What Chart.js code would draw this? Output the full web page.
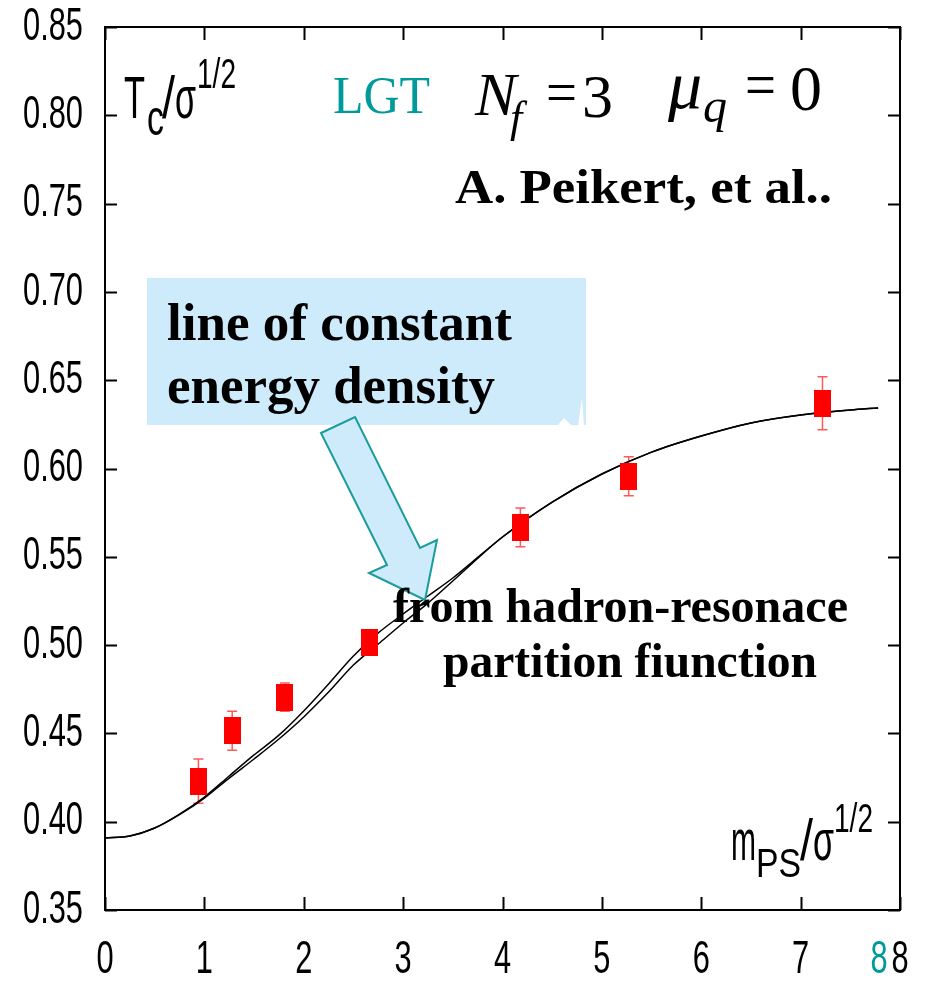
<!DOCTYPE html>
<html>
<head>
<meta charset="utf-8">
<script src="https://cdn.jsdelivr.net/npm/chart.js@4.4.1/dist/chart.umd.min.js"></script>
<style>
  html, body { margin: 0; padding: 0; background: #fff; }
  #wrap { width: 926px; height: 981px; }
</style>
</head>
<body>
<div id="wrap"><canvas id="chart" width="926" height="981"></canvas></div>
<script>
// lattice points: m_PS/sqrt(sigma) vs Tc/sqrt(sigma)
const massRatio = [0.94, 1.28, 1.81, 2.66, 4.18, 5.27, 7.22];
const tcRatio   = [0.423, 0.4515, 0.4705, 0.5016, 0.5667, 0.5956, 0.637];
const tcError   = [0.0125, 0.011, 0.008, 0.005, 0.011, 0.011, 0.015];

// hadron resonance gas curves (two parametrisations)
const curveX     = [0, 0.25, 0.5, 0.75, 1.0, 1.25, 1.5, 1.75, 2.0, 2.25, 2.5, 2.75, 3.0, 3.25, 3.5, 4.0, 4.5, 5.0, 5.5, 6.0, 6.5, 7.0, 7.5, 7.78];
const curveUpper = [0.3908, 0.3919, 0.3964, 0.4043, 0.4140, 0.4259, 0.4378, 0.4490, 0.4627, 0.4780, 0.4938, 0.5069, 0.5176, 0.5278, 0.5380, 0.5612, 0.5810, 0.5969, 0.6093, 0.6184, 0.6258, 0.6303, 0.6331, 0.6343];
const curveLower = [0.3908, 0.3919, 0.3964, 0.4040, 0.4134, 0.4247, 0.4355, 0.4468, 0.4593, 0.4734, 0.4887, 0.5006, 0.5125, 0.5238, 0.5363, 0.5612, 0.5810, 0.5969, 0.6093, 0.6184, 0.6258, 0.6303, 0.6331, 0.6343];

const xTicks = [0, 1, 2, 3, 4, 5, 6, 7, 8];
const yTicks = [0.35, 0.40, 0.45, 0.50, 0.55, 0.60, 0.65, 0.70, 0.75, 0.80, 0.85];

const RED = '#ff0000';
const TEAL = '#009a9a';
const SANS = "'Liberation Sans', Arial, sans-serif";
const SERIF = "'Liberation Serif', 'DejaVu Serif', serif";
const TICK_FONT = `46px ${SANS}`;
const TICK_SQUEEZE = 0.67;

// rectangular marker for the data points
const marker = document.createElement('canvas');
marker.width = 17;
marker.height = 27;
(() => {
  const m = marker.getContext('2d');
  m.fillStyle = RED;
  m.fillRect(0, 0, 17, 27);
})();

const pts = (xs, ys) => xs.map((x, i) => ({ x, y: ys[i] }));

// text squeezed/stretched horizontally to a given width
function fitText(ctx, text, x, y, width, font, color) {
  ctx.save();
  ctx.font = font;
  ctx.fillStyle = color;
  ctx.textAlign = 'left';
  ctx.textBaseline = 'alphabetic';
  const w = ctx.measureText(text).width;
  ctx.translate(x, y);
  ctx.scale(width / w, 1);
  ctx.fillText(text, 0, 0);
  ctx.restore();
}

function plainText(ctx, text, x, y, font, color) {
  ctx.save();
  ctx.font = font;
  ctx.fillStyle = color;
  ctx.textAlign = 'left';
  ctx.textBaseline = 'alphabetic';
  ctx.fillText(text, x, y);
  ctx.restore();
}

// narrow sans label, anchored by align at (x, y)
function narrowLabel(ctx, text, x, y, align, color) {
  ctx.save();
  ctx.font = TICK_FONT;
  ctx.fillStyle = color;
  ctx.textAlign = align;
  ctx.textBaseline = 'middle';
  ctx.translate(x, y);
  ctx.scale(TICK_SQUEEZE, 1);
  ctx.fillText(text, 0, 0);
  ctx.restore();
}

const errorBars = {
  id: 'errorBars',
  beforeDatasetsDraw(chart) {
    const { ctx, scales: { x, y } } = chart;
    ctx.save();
    ctx.strokeStyle = '#ff5a5a';
    ctx.lineWidth = 1.5;
    massRatio.forEach((m, i) => {
      const px = x.getPixelForValue(m);
      const top = y.getPixelForValue(tcRatio[i] + tcError[i]);
      const bot = y.getPixelForValue(tcRatio[i] - tcError[i]);
      ctx.beginPath();
      ctx.moveTo(px, top); ctx.lineTo(px, bot);
      ctx.moveTo(px - 5, top); ctx.lineTo(px + 5, top);
      ctx.moveTo(px - 5, bot); ctx.lineTo(px + 5, bot);
      ctx.stroke();
    });
    ctx.restore();
  }
};

// frame, inward ticks on all sides and condensed tick labels
const frame = {
  id: 'frame',
  afterDraw(chart) {
    const { ctx, chartArea: a, scales: { x, y } } = chart;
    ctx.save();
    ctx.strokeStyle = '#000';
    ctx.lineWidth = 2;
    ctx.strokeRect(a.left, a.top, a.right - a.left, a.bottom - a.top);
    ctx.beginPath();
    x.ticks.forEach(t => {
      const px = Math.round(x.getPixelForValue(t.value)) + 0.5;
      ctx.moveTo(px, a.bottom); ctx.lineTo(px, a.bottom - 13);
      ctx.moveTo(px, a.top); ctx.lineTo(px, a.top + 13);
    });
    y.ticks.forEach(t => {
      const py = Math.round(y.getPixelForValue(t.value)) + 0.5;
      ctx.moveTo(a.left, py); ctx.lineTo(a.left + 12, py);
      ctx.moveTo(a.right, py); ctx.lineTo(a.right - 12, py);
    });
    ctx.stroke();
    ctx.restore();

    x.ticks.forEach(t => {
      narrowLabel(ctx, String(t.value), x.getPixelForValue(t.value), a.bottom + 50, 'center', '#000');
    });
    y.ticks.forEach(t => {
      narrowLabel(ctx, Number(t.value).toFixed(2), a.left - 22, y.getPixelForValue(t.value), 'right', '#000');
    });
  }
};

const annotations = {
  id: 'annotations',
  afterDraw(chart) {
    const ctx = chart.ctx;

    // y axis title  Tc/sigma^(1/2)
    fitText(ctx, 'T', 124, 118, 21, `60px ${SANS}`, '#000');
    fitText(ctx, 'c', 147, 135, 17, `50px ${SANS}`, '#000');
    fitText(ctx, '/', 162, 118, 13, `60px ${SANS}`, '#000');
    fitText(ctx, 'σ', 175, 118, 21, `60px ${SANS}`, '#000');
    fitText(ctx, '1/2', 197, 88, 39, `42px ${SANS}`, '#000');

    // x axis title  m_PS/sigma^(1/2)
    fitText(ctx, 'm', 731, 860, 25, `58px ${SANS}`, '#000');
    fitText(ctx, 'PS', 756, 877, 45, `40px ${SANS}`, '#000');
    fitText(ctx, '/', 800, 860, 13, `58px ${SANS}`, '#000');
    fitText(ctx, 'σ', 813, 860, 21, `58px ${SANS}`, '#000');
    fitText(ctx, '1/2', 834, 832, 39, `40px ${SANS}`, '#000');

    // header line
    fitText(ctx, 'LGT', 333, 113, 97, `52px ${SERIF}`, TEAL);
    plainText(ctx, 'N', 475, 115, `italic 62px ${SERIF}`, '#000');
    plainText(ctx, 'f', 510, 132, `italic 44px ${SERIF}`, '#000');
    fitText(ctx, '=', 546, 113, 31, `62px ${SERIF}`, '#000');
    plainText(ctx, '3', 582, 117, `62px ${SERIF}`, '#000');
    plainText(ctx, 'μ', 668, 108, `italic 68px ${SERIF}`, '#000');
    plainText(ctx, 'q', 703, 122, `italic 48px ${SERIF}`, '#000');
    fitText(ctx, '=', 745, 106, 31, `64px ${SERIF}`, '#000');
    plainText(ctx, '0', 790, 110, `64px ${SERIF}`, '#000');

    fitText(ctx, 'A. Peikert, et al..', 455, 203, 377, `bold 48px ${SERIF}`, '#000');

    // callout box
    ctx.save();
    ctx.fillStyle = '#cdebfb';
    ctx.fillRect(147, 278, 439, 147);
    ctx.fillStyle = '#fff';
    ctx.beginPath();
    ctx.moveTo(557, 426); ctx.lineTo(564, 418); ctx.lineTo(572, 426);
    ctx.closePath();
    ctx.fill();
    ctx.beginPath();
    ctx.moveTo(578, 426); ctx.lineTo(582, 398); ctx.lineTo(584, 426);
    ctx.closePath();
    ctx.fill();
    ctx.restore();
    fitText(ctx, 'line of constant', 167, 340, 345, `bold 52px ${SERIF}`, '#000');
    fitText(ctx, 'energy density', 167, 403, 328, `bold 52px ${SERIF}`, '#000');

    // arrow
    ctx.save();
    ctx.beginPath();
    ctx.moveTo(321, 433);
    ctx.lineTo(355, 417);
    ctx.lineTo(420, 548);
    ctx.lineTo(437, 540);
    ctx.lineTo(425, 600);
    ctx.lineTo(369, 573);
    ctx.lineTo(387, 565);
    ctx.closePath();
    ctx.fillStyle = '#cdebfb';
    ctx.fill();
    ctx.strokeStyle = '#1a9c9c';
    ctx.lineWidth = 2;
    ctx.lineJoin = 'miter';
    ctx.stroke();
    ctx.restore();

    fitText(ctx, 'from hadron-resonace', 393, 622, 455, `bold 48px ${SERIF}`, '#000');
    fitText(ctx, 'partition fiunction', 443, 677, 374, `bold 48px ${SERIF}`, '#000');

    // extra teal label beside the last x tick
    narrowLabel(ctx, '8', 879, chart.chartArea.bottom + 50, 'center', TEAL);
  }
};

new Chart(document.getElementById('chart'), {
  type: 'scatter',
  data: {
    datasets: [
      {
        type: 'line',
        label: 'HRG a',
        data: pts(curveX, curveUpper),
        borderColor: '#000',
        borderWidth: 1.5,
        pointRadius: 0,
        fill: false,
        cubicInterpolationMode: 'monotone',
        order: 2,
      },
      {
        type: 'line',
        label: 'HRG b',
        data: pts(curveX, curveLower),
        borderColor: '#000',
        borderWidth: 1.5,
        pointRadius: 0,
        fill: false,
        cubicInterpolationMode: 'monotone',
        order: 2,
      },
      {
        label: 'LGT',
        data: pts(massRatio, tcRatio),
        pointStyle: marker,
        pointRadius: 9,
        backgroundColor: RED,
        borderColor: RED,
        order: 1,
      },
    ],
  },
  options: {
    responsive: false,
    animation: false,
    events: [],
    layout: { padding: { top: 27, right: 26, left: 0, bottom: 0 } },
    plugins: {
      legend: { display: false },
      tooltip: { enabled: false },
    },
    scales: {
      x: {
        type: 'linear',
        min: 0,
        max: 8,
        afterBuildTicks: (s) => { s.ticks = xTicks.map(v => ({ value: v })); },
        afterFit: (s) => { s.height = 71; },
        grid: { display: false, drawTicks: false },
        border: { display: false },
        ticks: { display: false },
      },
      y: {
        type: 'linear',
        min: 0.35,
        max: 0.85,
        afterBuildTicks: (s) => { s.ticks = yTicks.map(v => ({ value: v })); },
        afterFit: (s) => { s.width = 105; },
        grid: { display: false, drawTicks: false },
        border: { display: false },
        ticks: { display: false },
      },
    },
  },
  plugins: [errorBars, frame, annotations],
});
</script>
</body>
</html>
